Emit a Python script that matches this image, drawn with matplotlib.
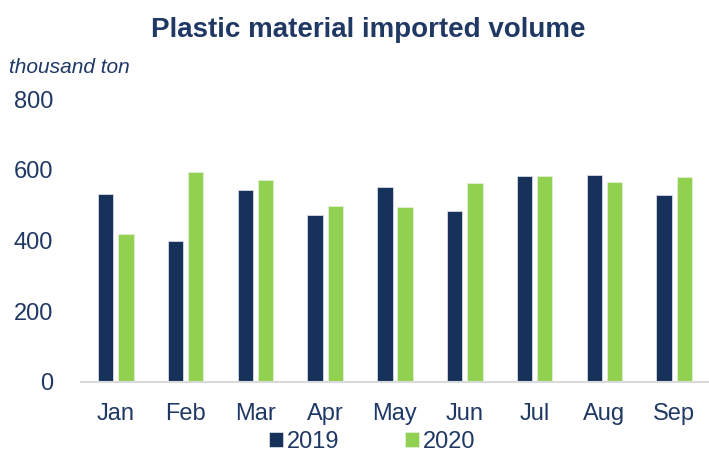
import matplotlib.pyplot as plt
import numpy as np

plt.rcParams["font.family"] = ["Liberation Sans", "DejaVu Sans"]

# ── data ──────────────────────────────────────────────────────────────────────
months = ["Jan", "Feb", "Mar", "Apr", "May", "Jun", "Jul", "Aug", "Sep"]
vol_2019 = [532, 400, 543, 472, 552, 484, 583, 586, 529]
vol_2020 = [419, 594, 571, 497, 495, 563, 584, 566, 579]
y_ticks = [0, 200, 400, 600, 800]

NAVY = "#16325A"
GREEN = "#92D050"
TEXT = "#1F3864"

fig = plt.figure(figsize=(7.09, 4.58), dpi=100)
ax = fig.add_axes([0.1142, 0.166, 0.8858, 0.6175])

x = np.arange(len(months))
w = 0.22
ax.bar(x - 0.145, vol_2019, width=w, color=NAVY, edgecolor="#D6DCE5",
       linewidth=0.6, label="2019")
ax.bar(x + 0.145, vol_2020, width=w, color=GREEN, edgecolor="#E2F0D9",
       linewidth=0.6, label="2020")

ax.set_xlim(-0.5, len(months) - 0.5)
ax.set_ylim(0, 800)
ax.set_yticks(y_ticks)
ax.set_xticks(x)
ax.set_xticklabels(months)
ax.tick_params(axis="both", length=0, labelsize=17, labelcolor=TEXT)
ax.tick_params(axis="y", pad=20)
ax.tick_params(axis="x", pad=15)

for side in ["top", "right", "left"]:
    ax.spines[side].set_visible(False)
ax.spines["bottom"].set_color("#D9D9D9")
ax.spines["bottom"].set_linewidth(1.5)

fig.text(0.52, 0.935, "Plastic material imported volume", ha="center",
         va="center", fontsize=20, fontweight="bold", color=TEXT)
fig.text(0.012, 0.852, "thousand ton", ha="left", va="center", fontsize=15,
         style="italic", color=TEXT)

fig.legend(loc="lower center", bbox_to_anchor=(0.525, 0.0), ncol=2,
           frameon=False, fontsize=17, labelcolor=TEXT, handlelength=0.6,
           handleheight=0.6, handletextpad=0.15, columnspacing=2.8,
           borderaxespad=0.1, borderpad=0.1)

fig.savefig("out.png", dpi=100)
